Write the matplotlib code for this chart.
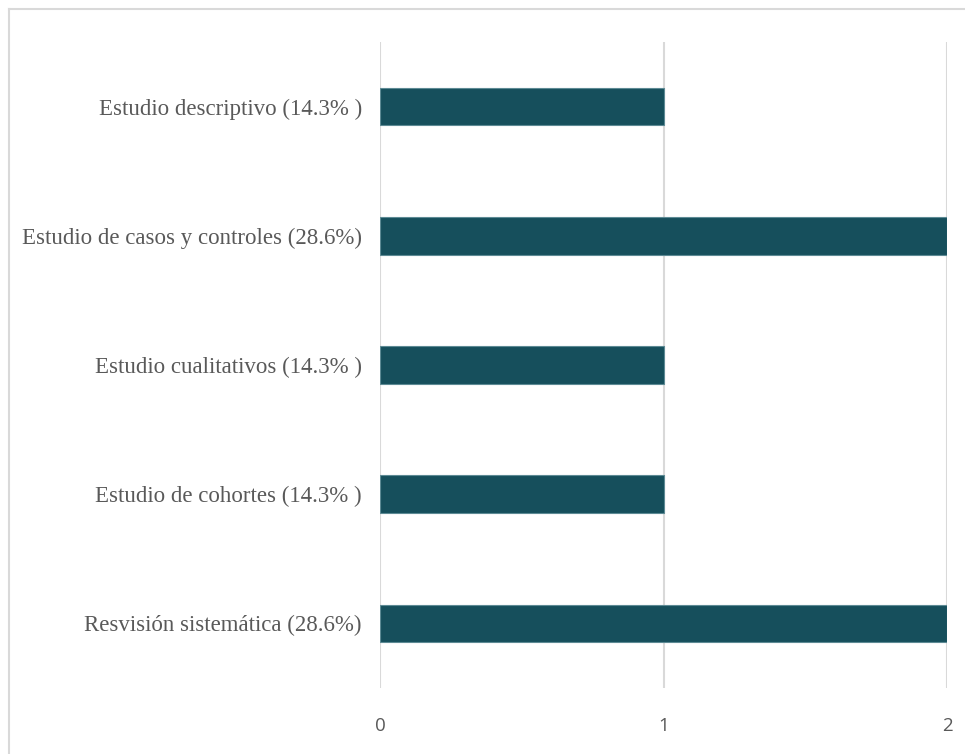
import matplotlib
matplotlib.use("Agg")
import matplotlib.pyplot as plt
from matplotlib.lines import Line2D

# Study design counts (share of included studies in parentheses)
categories = [
    "Resvisión sistemática (28.6%)",
    "Estudio de cohortes (14.3% )",
    "Estudio cualitativos (14.3% )",
    "Estudio de casos y controles (28.6%)",
    "Estudio descriptivo (14.3% )",
]
counts = [2, 1, 1, 2, 1]
x_ticks = [0, 1, 2]
x_tick_labels = ["0", "1", "2"]

W, H = 965, 754
fig = plt.figure(figsize=(W / 100, H / 100), dpi=100)
fig.patch.set_facecolor("white")

# outer chart frame (top and left edges)
fig.add_artist(Line2D([9 / W, 9 / W], [0, 1 - 9 / H], transform=fig.transFigure,
                      color="#d9d9d9", lw=1.5))
fig.add_artist(Line2D([9 / W, 1], [1 - 9 / H, 1 - 9 / H], transform=fig.transFigure,
                      color="#d9d9d9", lw=1.5))

left, right = 380 / W, 947 / W
bottom, top = 1 - 688 / H, 1 - 42 / H
ax = fig.add_axes([left, bottom, right - left, top - bottom])

y = list(range(len(categories)))
ax.barh(y, counts, height=0.29, color="#164f5c", edgecolor="#5d8a94", linewidth=0.8,
        zorder=3)

ax.set_xlim(0, 2)
ax.set_ylim(-0.5, len(categories) - 0.5)
ax.set_xticks(x_ticks)
ax.set_xticklabels(x_tick_labels, fontfamily="Open Sans", fontsize=13.5, color="#595959")
ax.set_yticks(y)
ax.set_yticklabels(categories, fontfamily="Liberation Serif", fontsize=16.5,
                   color="#595959")
ax.tick_params(axis="x", length=0, pad=21)
ax.tick_params(axis="y", length=0, pad=13)

ax.grid(axis="x", color="#d9d9d9", linewidth=1.5, zorder=0)
for s in ax.spines.values():
    s.set_visible(False)

fig.savefig("out.png", dpi=100, facecolor="white")
